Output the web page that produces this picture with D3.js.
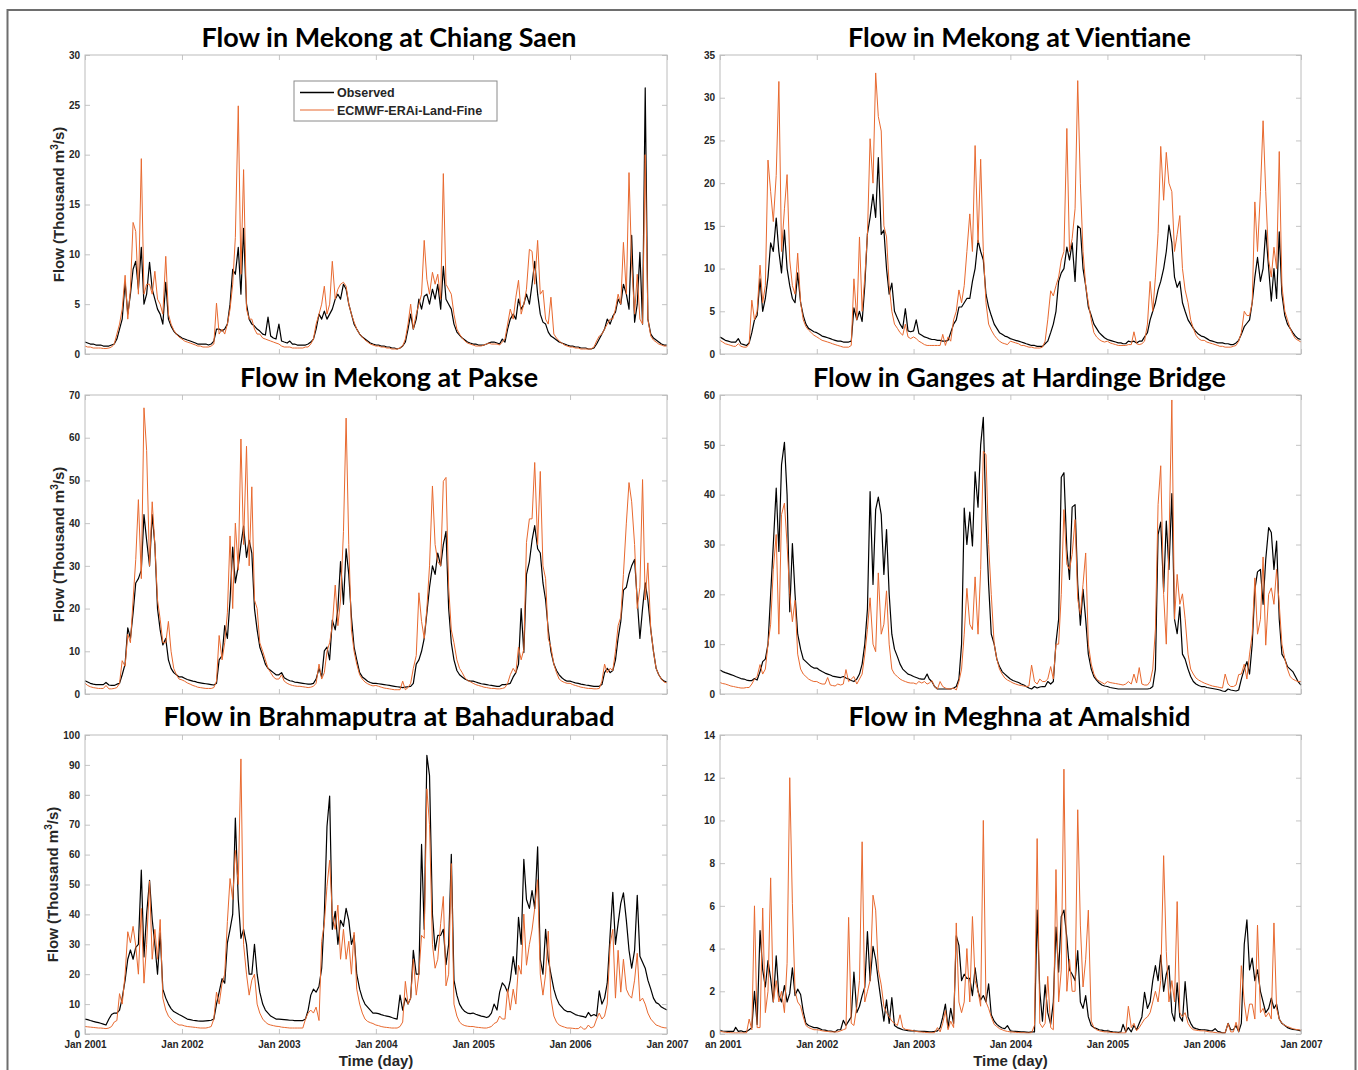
<!DOCTYPE html>
<html><head><meta charset="utf-8">
<script src="https://cdn.jsdelivr.net/npm/d3@7"></script>
<style>body{margin:0;background:#fff}svg{display:block}</style>
</head><body>
<svg id="chart" width="1358" height="1070"></svg>
<script>
// ---- Data: values every 10 days (1st, 11th, 21st of each month), 2001-01-01 .. 2007-01-01, thousand m3/s ----
const years = [2001, 2002, 2003, 2004, 2005, 2006];
const seriesNames = ["Observed", "ECMWF-ERAi-Land-Fine"];

const chiangSaenObs = [
1.2,1.1,1.0, 1.0,0.9,0.9, 0.9,0.8,0.8, 0.8,0.9,1.0, 1.5,2.5,3.5, 7.2,4.0,6.0, 8.5,9.3,6.5, 10.7,5.0,6.0, 9.2,6.5,5.5, 4.5,4.0,3.0, 7.2,3.5,2.8, 2.3,2.0,1.8,
1.6,1.5,1.4, 1.3,1.2,1.1, 1.0,1.0,1.0, 1.0,0.9,1.0, 1.3,2.5,2.5, 2.3,2.5,3.0, 5.0,8.5,8.0, 10.7,6.0,12.6, 5.0,3.5,3.0, 2.8,2.5,2.3, 2.0,1.9,3.7, 1.8,1.6,1.5,
3.0,1.3,1.2, 1.1,1.3,1.0, 1.0,0.9,0.9, 0.9,0.9,1.0, 1.2,1.5,2.5, 4.0,3.5,4.3, 3.5,4.0,4.5, 5.5,6.0,5.5, 7.0,6.5,5.0, 4.0,3.0,2.5, 2.0,1.7,1.5, 1.3,1.1,1.0,
0.9,0.9,0.8, 0.8,0.7,0.7, 0.6,0.6,0.5, 0.6,0.8,1.2, 2.5,4.0,2.5, 3.5,5.5,4.5, 5.8,6.0,5.0, 6.5,5.5,7.0, 4.5,8.8,5.5, 5.0,4.5,3.0, 2.2,1.9,1.6, 1.4,1.2,1.1,
1.0,1.0,0.9, 0.9,0.9,1.0, 1.1,1.2,1.2, 1.1,1.0,1.5, 1.2,2.5,3.5, 4.0,3.5,5.5, 4.5,5.0,6.0, 5.0,7.0,9.3, 6.0,4.0,3.2, 3.0,2.2,1.8, 1.6,1.4,1.2, 1.1,1.0,0.9,
0.8,0.8,0.7, 0.7,0.6,0.6, 0.6,0.5,0.5, 0.6,1.0,1.5, 2.0,2.5,3.5, 3.0,3.8,4.2, 5.5,5.0,7.0, 6.0,4.5,11.9, 3.2,5.0,10.2, 3.0,26.7,3.5, 2.0,1.6,1.4, 1.2,1.0,0.9,
0.9];
const chiangSaenMod = [
0.8,0.7,0.7, 0.6,0.6,0.6, 0.6,0.55,0.55, 0.6,0.7,1.0, 2.0,3.0,4.5, 7.9,3.5,6.5, 13.2,12.3,6.0, 19.6,6.0,7.0, 7.0,6.0,8.3, 5.5,5.0,4.0, 9.8,4.0,3.0, 2.4,2.0,1.7,
1.5,1.3,1.2, 1.1,1.0,0.9, 0.8,0.8,0.7, 0.7,0.7,0.8, 1.0,5.1,2.0, 2.5,2.0,3.0, 4.5,7.0,11.7, 24.9,8.0,18.5, 4.5,3.5,3.5, 2.5,2.0,2.0, 1.6,1.5,1.4, 1.3,1.2,1.1,
1.0,0.8,0.7, 0.7,0.7,0.6, 0.6,0.6,0.6, 0.6,0.7,0.7, 1.0,1.5,3.0, 4.0,5.0,6.8, 4.0,5.0,9.3, 5.5,6.5,7.0, 7.2,6.8,5.0, 4.0,3.2,2.5, 2.0,1.7,1.4, 1.2,1.0,0.9,
0.8,0.8,0.7, 0.7,0.6,0.6, 0.5,0.5,0.5, 0.6,0.8,1.5, 3.0,5.0,2.5, 4.0,5.0,6.0, 11.4,7.5,6.0, 8.2,7.0,8.0, 5.5,18.1,7.0, 6.5,6.0,4.0, 2.5,2.0,1.6, 1.3,1.1,1.0,
0.9,0.8,0.8, 0.8,0.9,1.0, 1.1,1.0,1.0, 1.0,0.9,1.2, 1.5,3.0,4.5, 3.5,5.7,7.4, 4.0,5.0,6.5, 10.5,10.3,7.0, 11.4,6.0,6.4, 3.5,3.0,5.7, 2.0,1.6,1.3, 1.1,0.9,0.8,
0.7,0.7,0.6, 0.6,0.5,0.5, 0.5,0.5,0.5, 0.7,1.3,1.8, 2.0,2.5,3.0, 3.5,3.5,4.5, 6.0,5.0,11.2, 6.0,18.2,9.0, 4.0,8.0,3.5, 3.0,20.0,3.5, 1.8,1.4,1.2, 1.0,0.9,0.8,
0.8];

const vientianeObs = [
2.0,1.8,1.6, 1.5,1.4,1.4, 1.4,1.8,1.2, 1.1,1.0,1.3, 2.5,4.0,4.5, 8.8,5.0,6.5, 9.0,13.0,12.0, 15.9,12.0,9.5, 14.5,10.0,8.0, 6.5,6.0,9.5, 6.0,4.5,3.5, 3.0,2.8,2.6,
2.5,2.3,2.1, 2.0,1.9,1.8, 1.7,1.6,1.5, 1.5,1.4,1.4, 1.4,1.5,5.4, 4.0,5.0,3.8, 8.0,14.1,16.0, 18.7,16.0,23.0, 14.0,14.5,10.0, 7.0,8.3,5.0, 4.2,3.5,3.0, 5.3,2.7,2.6,
2.7,4.0,2.4, 2.2,2.0,1.9, 1.8,1.7,1.7, 1.6,1.6,1.5, 1.5,1.6,2.5, 3.5,4.0,5.5, 5.5,6.0,6.5, 6.5,8.5,10.0, 13.3,12.0,11.0, 7.0,5.5,4.5, 3.5,3.0,2.5, 2.3,2.1,2.0,
1.8,1.7,1.6, 1.5,1.4,1.3, 1.2,1.1,1.0, 1.0,0.9,0.9, 0.9,1.2,1.5, 2.5,3.5,5.0, 8.5,9.5,10.0, 12.5,11.0,13.0, 8.5,15.0,14.7, 10.0,8.0,5.5, 4.5,3.5,3.0, 2.5,2.2,1.9,
1.7,1.6,1.5, 1.4,1.3,1.3, 1.2,1.2,1.5, 1.4,1.5,1.3, 1.5,1.5,2.0, 2.5,4.0,5.0, 6.0,7.5,8.5, 10.0,12.0,15.1, 13.0,9.0,7.8, 8.5,6.0,5.0, 4.0,3.5,3.0, 2.6,2.3,2.1,
2.0,1.8,1.6, 1.5,1.4,1.3, 1.3,1.3,1.2, 1.2,1.1,1.1, 1.3,1.6,2.3, 3.2,3.6,4.0, 6.0,9.0,11.3, 8.5,10.0,14.5, 10.0,6.2,10.0, 6.5,14.3,7.0, 4.5,3.5,3.0, 2.5,2.1,1.8,
1.7];
const vientianeMod = [
1.6,1.4,1.2, 1.1,1.0,0.9, 0.9,1.2,0.9, 0.8,0.8,1.2, 6.3,4.0,5.0, 10.4,6.0,8.0, 22.7,19.0,15.5, 20.9,31.9,12.0, 17.0,21.0,11.0, 8.0,7.0,11.8, 6.0,4.0,3.2, 2.8,2.5,2.2,
2.0,1.8,1.6, 1.5,1.4,1.3, 1.2,1.1,1.0, 0.9,0.8,0.8, 0.8,1.0,8.8, 4.0,13.7,5.0, 9.0,14.0,25.2, 20.0,32.9,27.8, 26.1,15.0,13.7, 8.0,5.0,3.5, 3.0,2.5,2.2, 3.5,2.0,1.8,
2.0,1.8,1.5, 1.3,1.1,1.0, 1.0,1.0,1.0, 1.0,1.0,2.3, 1.0,2.0,1.5, 4.0,5.0,7.5, 6.0,8.0,12.0, 16.4,12.0,24.4, 13.0,22.8,12.0, 6.0,3.5,2.8, 2.2,1.8,1.5, 1.3,1.2,1.1,
1.5,1.4,1.3, 1.2,1.0,1.0, 0.9,0.8,0.8, 0.7,0.7,0.7, 0.8,1.5,4.0, 7.4,6.8,8.0, 9.0,11.0,12.0, 26.4,12.0,13.5, 17.0,32.0,20.0, 12.0,8.0,6.0, 4.0,2.5,2.0, 1.7,1.5,1.4,
1.5,1.3,1.2, 1.1,1.0,1.0, 1.0,1.0,1.1, 1.1,2.6,1.2, 1.1,1.2,1.5, 3.5,8.5,5.0, 9.0,14.1,24.3, 18.0,23.6,20.0, 19.0,12.0,14.0, 16.2,10.0,7.5, 6.0,4.0,3.0, 2.2,1.8,1.6,
1.6,1.4,1.3, 1.2,1.1,1.0, 0.9,0.9,0.8, 0.8,0.8,0.9, 1.0,1.5,2.5, 5.0,4.5,4.5, 6.0,17.8,12.0, 19.0,27.3,19.0, 11.0,9.0,12.5, 10.0,23.7,8.0, 5.0,4.0,3.0, 2.3,1.8,1.6,
1.4];

const pakseObs = [
3.1,2.8,2.5, 2.3,2.2,2.2, 2.2,2.2,2.7, 2.1,2.0,2.0, 2.3,2.5,4.5, 7.0,15.5,13.0, 19.0,26.0,27.0, 29.0,42.0,36.0, 30.0,42.0,35.0, 20.0,15.0,11.5, 13.0,8.0,6.0, 5.0,4.5,4.0,
4.0,3.7,3.4, 3.2,3.0,2.9, 2.7,2.6,2.5, 2.4,2.3,2.2, 2.1,2.5,8.0, 9.0,16.0,13.0, 22.0,34.4,26.0, 30.0,35.0,39.3, 32.0,36.0,33.0, 20.0,15.0,11.0, 9.0,7.0,6.0, 5.5,5.0,4.5,
4.5,5.0,3.8, 3.4,3.1,3.0, 2.8,2.7,2.6, 2.5,2.4,2.3, 2.3,2.5,3.5, 6.0,4.0,10.1, 11.0,8.0,17.3, 15.0,20.0,31.0, 21.0,34.0,28.0, 18.0,11.0,8.0, 5.0,4.0,3.5, 3.0,2.7,2.5,
2.5,2.4,2.3, 2.2,2.1,2.0, 1.9,1.8,1.7, 1.6,1.5,1.6, 1.7,1.8,2.5, 7.0,8.0,10.0, 13.0,19.0,25.0, 30.0,28.0,33.0, 30.0,35.0,38.1, 20.0,12.0,8.0, 5.5,4.5,4.0, 3.5,3.2,3.0,
3.0,2.8,2.6, 2.4,2.3,2.2, 2.1,2.0,1.9, 1.8,1.8,2.2, 2.2,2.3,2.5, 4.0,5.0,7.0, 20.0,9.7,28.0, 31.0,36.0,39.4, 34.0,33.0,26.0, 22.0,15.0,10.0, 7.0,5.5,4.5, 3.8,3.3,3.0,
3.0,2.8,2.6, 2.5,2.3,2.2, 2.1,2.0,1.9, 1.8,1.8,1.8, 2.2,5.0,6.0, 5.0,5.5,8.0, 13.1,17.0,24.3, 25.0,28.0,30.0, 31.5,22.0,13.0, 20.0,26.0,22.0, 15.0,10.0,6.0, 4.5,3.5,3.0,
2.8];
const pakseMod = [
2.5,2.0,1.7, 1.5,1.4,1.3, 1.3,1.3,2.0, 1.2,1.2,1.3, 1.5,2.5,7.8, 6.5,14.0,12.0, 22.0,31.5,45.5, 27.0,67.0,57.0, 30.0,45.0,35.0, 22.0,17.5,12.0, 12.0,17.0,10.0, 6.0,4.5,3.5,
3.3,3.0,2.6, 2.3,2.0,1.8, 1.6,1.5,1.4, 1.3,1.3,1.3, 1.5,3.0,13.7, 8.0,12.0,19.0, 37.0,20.0,40.0, 29.0,59.7,35.0, 58.0,30.0,48.5, 22.0,20.0,12.0, 10.0,8.0,6.0, 5.0,4.0,3.5,
3.5,4.5,3.0, 2.5,2.2,2.0, 1.9,1.8,1.8, 1.7,1.6,1.5, 1.6,1.8,2.5, 7.0,3.5,5.0, 10.0,12.0,16.0, 25.5,16.0,22.0, 38.0,64.6,35.0, 15.0,10.0,7.0, 4.5,3.5,2.8, 2.4,2.1,1.9,
2.0,1.8,1.6, 1.4,1.3,1.2, 1.1,1.0,1.0, 1.0,3.0,1.0, 1.5,2.5,6.0, 9.0,23.7,17.0, 13.0,20.0,30.0, 48.7,35.0,31.0, 30.0,49.8,50.7, 25.0,15.0,12.0, 8.0,6.0,5.0, 3.8,3.2,2.9,
2.5,2.2,2.0, 1.8,1.6,1.5, 1.4,1.3,1.3, 1.2,1.2,1.3, 1.5,2.5,4.5, 6.0,5.0,11.0, 8.0,10.5,35.5, 41.0,41.0,54.2, 35.0,52.1,30.0, 27.0,13.0,11.0, 7.0,5.0,3.5, 3.0,2.7,2.5,
2.5,2.2,2.0, 1.8,1.6,1.5, 1.4,1.3,1.3, 1.2,1.2,1.3, 3.0,7.0,5.0, 6.0,5.5,10.0, 16.0,18.0,28.0, 40.0,49.5,45.0, 35.0,20.0,25.0, 50.2,22.0,30.7, 15.0,10.0,6.0, 4.5,3.5,2.8,
2.6];

const gangesObs = [
4.8,4.5,4.3, 4.1,3.9,3.7, 3.5,3.3,3.1, 3.0,2.8,2.7, 2.7,3.1,2.8, 4.5,6.5,7.0, 10.0,20.0,30.0, 41.3,28.6,46.0, 50.5,40.0,16.5, 30.2,20.0,12.0, 9.0,7.0,6.5, 6.0,5.5,5.2,
5.2,4.8,4.5, 4.2,4.0,3.8, 3.6,3.5,3.4, 3.3,3.5,3.2, 3.0,2.7,2.5, 3.0,4.0,6.0, 10.0,17.0,40.6, 22.0,37.0,39.5, 36.0,24.0,33.0, 20.0,12.0,9.0, 7.5,6.0,5.0, 4.5,4.0,3.8,
3.5,3.3,3.1, 3.0,3.0,4.0, 3.0,2.5,1.5, 1.0,1.0,1.0, 1.0,1.0,1.0, 1.2,1.5,3.0, 10.0,37.3,30.0, 36.5,29.7,44.6, 37.5,50.0,55.5, 35.0,22.0,12.0, 10.0,7.0,5.5, 4.5,4.0,3.5,
3.0,2.7,2.5, 2.3,2.0,1.8, 1.5,1.2,1.0, 1.5,1.2,1.4, 1.5,1.5,2.5, 2.0,2.5,10.3, 15.0,43.5,44.4, 29.0,23.0,37.5, 38.0,22.0,13.8, 21.0,15.0,8.0, 5.0,3.5,2.8, 2.2,1.8,1.6,
1.5,1.3,1.2, 1.1,1.0,1.0, 1.0,1.0,1.0, 1.0,1.0,1.0, 1.0,1.0,1.0, 1.0,1.1,1.5, 5.0,32.0,34.5, 20.5,34.7,25.0, 40.2,15.0,12.1, 17.5,8.0,7.0, 5.0,3.5,2.5, 2.0,1.7,1.5,
1.5,1.3,1.2, 1.1,1.0,0.9, 0.8,0.6,0.5, 1.0,0.8,0.7, 0.6,0.8,3.0, 5.0,6.5,4.0, 10.0,21.0,24.5, 25.0,18.0,27.0, 33.4,32.4,25.0, 30.7,15.0,8.0, 7.0,5.5,5.0, 4.5,3.5,2.5,
1.8];
const gangesMod = [
2.3,2.1,2.0, 1.8,1.6,1.5, 1.4,1.3,1.2, 1.2,1.3,1.3, 2.0,3.0,3.5, 5.9,4.0,5.0, 10.0,14.0,25.0, 32.0,12.0,36.0, 38.3,30.0,20.0, 14.5,18.8,8.0, 5.0,4.0,3.5, 3.0,2.7,2.5,
2.5,2.2,2.0, 2.0,3.3,1.8, 1.7,1.6,2.0, 1.8,2.0,4.9, 2.5,3.0,3.5, 2.0,3.0,4.0, 8.0,13.0,19.3, 10.0,8.5,24.3, 12.0,14.0,20.7, 10.0,5.0,4.0, 3.5,3.0,2.7, 2.5,2.3,2.2,
2.2,2.0,2.5, 2.2,2.5,2.0, 2.2,2.7,1.5, 1.0,2.5,1.5, 1.2,1.0,1.0, 1.2,0.8,2.5, 5.0,12.0,21.2, 14.0,12.9,23.5, 12.0,25.0,48.7, 48.0,30.0,20.0, 10.0,7.0,5.0, 4.0,3.2,2.8,
2.5,2.2,2.0, 1.8,1.7,1.6, 1.5,1.6,5.8, 2.5,2.0,3.0, 2.5,2.5,3.0, 5.5,3.0,10.0, 10.0,20.0,37.0, 26.0,25.0,28.0, 35.0,19.0,16.0, 22.0,28.3,10.0, 6.0,4.0,3.0, 2.6,2.3,2.0,
2.5,2.3,2.2, 2.1,2.0,1.9, 1.8,2.0,2.5, 2.0,4.0,2.2, 5.3,2.0,1.8, 1.8,2.5,5.0, 13.0,38.0,45.8, 20.0,10.0,30.0, 59.0,15.0,24.0, 18.0,20.1,15.1, 8.0,5.0,4.0, 3.2,2.8,2.5,
2.2,2.0,1.8, 1.6,1.5,1.4, 1.3,1.2,4.0, 2.0,1.5,1.5, 1.8,3.9,4.0, 6.0,3.0,8.0, 12.0,23.3,12.0, 15.0,27.5,9.8, 20.0,21.3,18.0, 25.0,18.0,10.0, 7.0,5.0,3.5, 3.0,2.7,2.5,
2.5];

const brahmaputraObs = [
5.0,4.8,4.5, 4.2,4.0,3.8, 3.6,3.3,3.0, 5.0,6.5,7.0, 7.0,8.0,12.0, 18.0,25.0,28.1, 25.0,29.0,30.0, 54.8,25.8,40.0, 51.4,38.3,30.0, 20.0,33.8,15.0, 12.0,10.0,8.5, 7.5,7.0,6.5,
6.0,5.5,5.0, 4.8,4.6,4.5, 4.4,4.3,4.3, 4.4,4.5,4.6, 5.0,10.0,14.0, 18.5,17.0,30.5, 35.0,40.0,72.2, 45.0,32.0,35.0, 30.0,20.0,20.0, 30.0,20.0,14.0, 10.0,8.0,7.0, 6.0,5.5,5.0,
5.0,4.9,4.8, 4.7,4.6,4.6, 4.5,4.5,4.5, 4.5,5.0,8.0, 13.0,15.0,14.0, 16.0,22.0,40.0, 69.4,79.6,35.0, 41.0,30.0,38.0, 36.0,42.0,38.0, 30.0,33.0,20.0, 15.0,12.0,10.0, 9.0,8.0,7.0,
7.0,6.8,6.5, 6.2,6.0,5.8, 5.5,5.2,5.0, 13.0,8.0,12.0, 10.0,12.0,28.0, 20.0,20.0,63.4, 35.0,93.2,86.4, 40.0,28.0,33.0, 33.0,35.0,23.2, 30.0,60.1,18.0, 13.0,10.0,8.5, 7.5,7.0,6.8,
7.0,6.6,6.3, 6.0,5.8,5.5, 5.8,7.0,10.0, 8.0,14.0,17.1, 16.0,14.0,18.0, 25.9,20.0,39.0, 30.0,58.4,45.0, 42.0,48.0,42.0, 62.6,25.0,20.0, 35.0,25.0,20.0, 15.0,12.0,10.0, 9.0,8.0,7.5,
7.5,7.0,6.5, 6.2,6.0,5.8, 5.5,7.2,6.0, 6.5,6.0,14.4, 10.0,12.0,17.0, 33.4,47.4,30.0, 37.0,43.7,47.2, 38.0,28.0,22.0, 28.0,46.4,26.0, 24.0,22.0,18.0, 15.0,12.0,10.5, 10.0,9.0,8.5,
8.0];
const brahmaputraMod = [
2.5,2.4,2.3, 2.2,2.1,2.0, 2.0,1.9,1.8, 2.0,2.5,4.0, 4.5,13.5,10.0, 20.0,34.2,30.5, 36.0,29.5,20.0, 42.0,17.0,30.0, 51.2,25.0,35.0, 25.0,38.3,12.0, 8.0,6.0,5.0, 4.0,3.5,3.0,
3.0,2.7,2.5, 2.4,2.3,2.2, 2.1,2.0,2.0, 2.0,2.2,2.5, 5.0,14.0,10.0, 17.0,20.0,37.6, 52.0,45.0,61.4, 50.0,92.0,30.0, 20.0,13.0,18.0, 20.0,10.0,7.0, 5.0,4.0,3.3, 3.0,2.8,2.6,
2.5,2.3,2.2, 2.1,2.0,2.0, 2.0,2.0,2.0, 2.0,5.0,7.0, 8.0,7.0,9.0, 4.5,31.0,37.0, 49.4,58.1,40.0, 35.0,43.1,25.0, 35.0,25.0,31.0, 20.0,34.0,15.0, 10.0,7.0,5.0, 4.2,3.8,3.5,
3.0,2.8,2.5, 2.3,2.2,2.1, 2.0,2.0,2.0, 2.5,4.0,17.6, 10.0,12.0,25.0, 13.0,20.0,33.0, 32.0,82.0,70.0, 30.0,22.0,25.0, 37.0,46.0,16.1, 20.0,57.0,10.0, 6.0,4.0,3.2, 2.8,2.6,2.5,
2.5,2.3,2.2, 2.1,2.0,2.0, 2.2,2.5,3.5, 4.0,6.0,5.0, 5.0,15.0,8.0, 15.0,10.0,23.0, 20.0,40.1,23.0, 30.0,34.8,42.0, 51.6,20.0,13.0, 20.0,34.4,12.0, 6.0,4.0,3.0, 2.6,2.3,2.0,
2.0,1.9,1.8, 1.8,2.5,1.6, 1.7,3.0,2.0, 2.5,5.0,7.0, 5.0,6.0,10.0, 30.0,35.0,12.0, 28.0,14.0,25.0, 15.0,13.0,12.0, 18.0,27.0,11.0, 12.0,10.0,7.0, 5.0,4.0,3.0, 2.7,2.3,2.1,
2.0];

const meghnaObs = [
0.16,0.14,0.13, 0.12,0.12,0.12, 0.31,0.12,0.15, 0.10,0.12,0.20, 0.30,2.00,0.45, 4.84,3.00,2.20, 3.44,2.60,1.50, 3.66,1.80,1.50, 2.27,1.50,1.90, 3.10,1.80,2.10, 1.85,1.05,0.50, 0.40,0.35,0.30,
0.30,0.25,0.20, 0.18,0.15,0.14, 0.12,0.10,0.20, 0.20,0.64,0.40, 0.60,0.80,2.90, 1.00,1.30,1.80, 2.20,4.80,2.50, 4.10,3.50,2.50, 1.50,0.60,1.60, 0.50,1.70,0.40, 0.30,0.25,0.20, 0.18,0.16,0.15,
0.15,0.14,0.13, 0.12,0.12,0.11, 0.10,0.10,0.12, 0.15,0.30,0.79, 1.40,0.30,1.20, 0.50,4.60,4.15, 2.50,2.80,2.60, 2.60,1.80,3.10, 2.00,1.60,1.80, 1.50,2.35,0.90, 0.60,0.45,0.35, 0.28,0.25,0.39,
0.15,0.13,0.12, 0.11,0.10,0.10, 0.09,0.08,0.10, 0.10,5.80,2.00, 0.60,2.30,1.00, 0.45,1.50,5.00, 2.90,5.50,5.80, 4.50,3.00,2.80, 2.50,3.90,1.50, 1.20,1.80,0.80, 0.40,0.30,0.25, 0.20,0.18,0.15,
0.15,0.12,0.10, 0.09,0.08,0.10, 0.45,0.10,0.30, 0.10,0.40,0.20, 0.50,0.80,1.95, 1.20,1.50,2.50, 3.20,2.50,3.70, 2.00,2.80,3.20, 1.00,0.60,2.40, 0.80,0.60,2.45, 0.80,0.50,0.30, 0.25,0.22,0.20,
0.20,0.18,0.16, 0.15,0.25,0.12, 0.10,0.05,0.05, 0.50,0.20,0.20, 0.40,0.10,0.50, 4.20,5.34,3.00, 3.55,2.50,3.00, 2.00,1.50,1.00, 1.20,1.68,1.20, 1.40,0.70,0.50, 0.40,0.30,0.25, 0.22,0.20,0.18,
0.15];
const meghnaMod = [
0.12,0.10,0.08, 0.07,0.06,0.05, 0.05,0.05,0.05, 0.05,0.05,0.70, 0.20,6.00,0.30, 0.30,5.90,1.00, 2.00,7.31,1.50, 2.50,1.50,2.00, 1.00,3.31,12.00, 6.10,2.00,1.50, 1.30,0.80,0.40, 0.30,0.25,0.20,
0.20,0.18,0.15, 0.13,0.12,0.10, 0.10,0.10,0.10, 0.15,0.20,0.25, 5.46,0.50,0.40, 1.30,2.50,9.00, 1.50,2.00,2.50, 6.50,5.80,3.00, 2.30,1.30,1.00, 0.80,0.60,0.50, 0.40,0.90,0.30, 0.22,0.20,0.18,
0.15,0.12,0.10, 0.09,0.08,0.07, 0.06,0.06,0.06, 0.30,0.10,0.50, 1.10,0.20,0.60, 0.30,5.20,1.50, 1.00,1.50,4.00, 1.50,5.50,2.50, 2.00,1.30,10.00, 1.50,1.20,0.80, 0.45,0.35,0.25, 0.20,0.15,0.12,
0.10,0.09,0.08, 0.07,0.06,0.06, 0.05,0.05,0.06, 0.40,9.15,0.50, 0.30,0.50,2.70, 0.30,0.20,7.70, 1.50,3.00,12.40, 2.00,3.50,2.00, 2.00,10.50,5.10, 2.20,3.50,5.80, 0.60,0.30,0.20, 0.15,0.12,0.10,
0.10,0.08,0.07, 0.06,0.05,0.05, 0.05,0.05,1.30, 0.30,0.50,0.15, 0.30,0.50,0.70, 0.80,1.00,1.50, 2.00,1.50,2.50, 8.35,3.86,1.50, 2.50,1.50,6.20, 1.00,0.80,1.00, 0.50,0.30,0.20, 0.18,0.16,0.15,
0.15,0.12,0.10, 0.09,0.07,0.05, 0.05,0.05,0.05, 0.50,0.10,0.10, 0.55,0.10,3.20, 1.50,0.60,1.40, 1.40,0.70,5.10, 1.00,1.20,0.80, 1.00,0.70,5.20, 1.20,0.70,0.50, 0.40,0.35,0.30, 0.25,0.22,0.20,
0.18];

const titles = ["Flow in Mekong at Chiang Saen", "Flow in Mekong at Vientiane", "Flow in Mekong at Pakse",
  "Flow in Ganges at Hardinge Bridge", "Flow in Brahmaputra at Bahadurabad", "Flow in Meghna at Amalshid"];
const yMaxes = [30, 35, 70, 60, 100, 14];
const yStepsList = [5, 5, 10, 10, 10, 2];

// ---- layout / style ----
const W = 1358, H = 1070;
const OBS_COLOR = "#000000", MOD_COLOR = "#E8692F";
const AXIS_COLOR = "#bcbcbc", TICK_COLOR = "#c4c4c4", LABEL_COLOR = "#262626";
const TICK_FONT = "'Liberation Sans', Arial, Helvetica, sans-serif";
const TITLE_FONT = "Lato, 'Open Sans', sans-serif";
const cols = [{x0: 85, x1: 667, titleDx: 13}, {x0: 720, x1: 1301, titleDx: 9}];
const rows = [{y0: 55, y1: 354, titleY: 47}, {y0: 395, y1: 694, titleY: 387}, {y0: 735, y1: 1034, titleY: 726}];
const titleWidths = [375, 343, 298, 413, 451, 342];

const obsList = [chiangSaenObs, vientianeObs, pakseObs, gangesObs, brahmaputraObs, meghnaObs];
const modList = [chiangSaenMod, vientianeMod, pakseMod, gangesMod, brahmaputraMod, meghnaMod];

const dates = d3.range(years.length * 36 + 1).map(i =>
  new Date(years[0] + Math.floor(i / 36), Math.floor((i % 36) / 3), 1 + (i % 3) * 10));
const yearTicks = d3.range(years[0], years[years.length - 1] + 2).map(y => new Date(y, 0, 1));

const svg = d3.select("#chart");
svg.append("rect").attr("width", W).attr("height", H).attr("fill", "#fff");

// clip (in the local coordinates of the bottom axis group, which sits at y = 1034)
const defs = svg.append("defs");
defs.append("clipPath").attr("id", "clipRightLabels").append("rect")
  .attr("x", 705).attr("y", -60).attr("width", 700).attr("height", 120);

titles.forEach((title, k) => {
  const c = cols[k % 2], r = rows[Math.floor(k / 2)];
  const rowIdx = Math.floor(k / 2), colIdx = k % 2;
  const x = d3.scaleTime().domain([yearTicks[0], yearTicks[yearTicks.length - 1]]).range([c.x0, c.x1]);
  const y = d3.scaleLinear().domain([0, yMaxes[k]]).range([r.y1, r.y0]);
  const yTicks = d3.range(0, yMaxes[k] + 1e-9, yStepsList[k]);
  const g = svg.append("g");

  g.append("rect").attr("x", c.x0).attr("y", r.y0).attr("width", c.x1 - c.x0).attr("height", r.y1 - r.y0)
    .attr("fill", "#fff");

  const styleAxis = sel => {
    sel.select(".domain").remove();
    sel.selectAll(".tick line").attr("stroke", TICK_COLOR).attr("stroke-width", 1);
    sel.selectAll(".tick text").attr("fill", LABEL_COLOR).attr("font-family", TICK_FONT)
      .attr("font-weight", "bold").attr("font-size", 10);
  };
  g.append("g").attr("transform", `translate(${c.x0},0)`)
    .call(d3.axisLeft(y).tickValues(yTicks).tickSizeInner(-5).tickSizeOuter(0).tickPadding(5).tickFormat(d3.format("d")))
    .call(styleAxis);
  g.append("g").attr("transform", `translate(${c.x1},0)`)
    .call(d3.axisRight(y).tickValues(yTicks).tickSizeInner(-5).tickSizeOuter(0).tickFormat(""))
    .call(styleAxis);
  g.append("g").attr("transform", `translate(0,${r.y0})`)
    .call(d3.axisTop(x).tickValues(yearTicks).tickSizeInner(-5).tickSizeOuter(0).tickFormat(""))
    .call(styleAxis);
  const bx = g.append("g").attr("transform", `translate(0,${r.y1})`)
    .call(d3.axisBottom(x).tickValues(yearTicks).tickSizeInner(-5).tickSizeOuter(0).tickPadding(7)
      .tickFormat(rowIdx === 2 ? d3.timeFormat("%b %Y") : ""))
    .call(styleAxis);
  if (rowIdx === 2 && colIdx === 1) bx.attr("clip-path", "url(#clipRightLabels)");

  const line = d3.line().x((d, i) => x(dates[i])).y(d => y(d));
  g.append("path").datum(obsList[k]).attr("d", line).attr("fill", "none")
    .attr("stroke", OBS_COLOR).attr("stroke-width", 1.2).attr("stroke-linejoin", "round");
  g.append("path").datum(modList[k]).attr("d", line).attr("fill", "none")
    .attr("stroke", MOD_COLOR).attr("stroke-width", 1).attr("stroke-linejoin", "round");

  g.append("rect").attr("x", c.x0).attr("y", r.y0).attr("width", c.x1 - c.x0).attr("height", r.y1 - r.y0)
    .attr("fill", "none").attr("stroke", AXIS_COLOR).attr("stroke-width", 1);

  g.append("text").attr("x", (c.x0 + c.x1) / 2 + c.titleDx).attr("y", r.titleY)
    .attr("text-anchor", "middle").attr("font-family", TITLE_FONT).attr("font-weight", "bold")
    .attr("font-size", 26).attr("fill", "#000")
    .attr("textLength", titleWidths[k]).attr("lengthAdjust", "spacingAndGlyphs").text(title);

  if (colIdx === 0) {
    const lx = rowIdx === 2 ? 58 : 64;
    const t = g.append("text").attr("transform", `translate(${lx},${(r.y0 + r.y1) / 2}) rotate(-90)`)
      .attr("text-anchor", "middle").attr("font-family", TICK_FONT).attr("font-weight", "bold")
      .attr("font-size", 15).attr("fill", LABEL_COLOR);
    t.append("tspan").text("Flow (Thousand m");
    t.append("tspan").attr("dy", -6).attr("font-size", 10).text("3");
    t.append("tspan").attr("dy", 6).text("/s)");
  }
  if (rowIdx === 2) {
    g.append("text").attr("x", (c.x0 + c.x1) / 2).attr("y", 1066).attr("text-anchor", "middle")
      .attr("font-family", TICK_FONT).attr("font-weight", "bold").attr("font-size", 15)
      .attr("fill", LABEL_COLOR).text("Time (day)");
  }
  if (k === 0) {
    const lg = g.append("g");
    lg.append("rect").attr("x", 294).attr("y", 81).attr("width", 203).attr("height", 40)
      .attr("fill", "#fff").attr("stroke", "#8a8a8a").attr("stroke-width", 1);
    [OBS_COLOR, MOD_COLOR].forEach((col, j) => {
      const ly = 92.5 + j * 17.5;
      lg.append("line").attr("x1", 300).attr("x2", 334).attr("y1", ly).attr("y2", ly)
        .attr("stroke", col).attr("stroke-width", j === 0 ? 1.5 : 1.2);
      lg.append("text").attr("x", 337).attr("y", ly + 4.5).attr("font-family", TICK_FONT)
        .attr("font-weight", "bold").attr("font-size", 12.5).attr("fill", LABEL_COLOR).text(seriesNames[j]);
    });
  }
});

svg.append("rect").attr("x", 7.5).attr("y", 10).attr("width", 1348).attr("height", 1075)
  .attr("fill", "none").attr("stroke", "#6e6e6e").attr("stroke-width", 2);
</script>
</body></html>
